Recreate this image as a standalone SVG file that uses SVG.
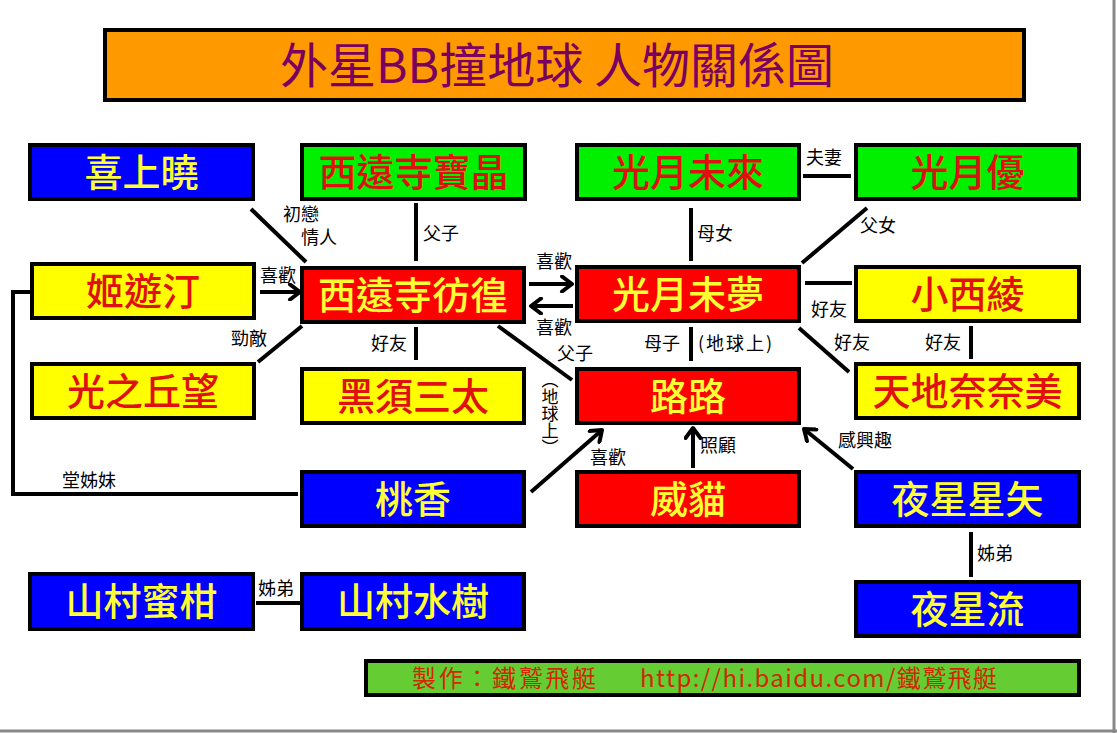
<svg xmlns="http://www.w3.org/2000/svg" width="1117" height="733" viewBox="0 0 1117 733">
<style>
  .box { stroke: #000; stroke-width: 4; }
  .blue { fill: #0000ff; }
  .green { fill: #00f000; }
  .yellow { fill: #ffff00; }
  .red { fill: #ff0000; }
  .t { font-family: "Noto Sans CJK TC", "Noto Sans CJK SC", sans-serif; font-size: 38px; text-anchor: middle; font-weight: 500; }
  .ty { fill: #ffff33; }
  .tr { fill: #e01010; }
  .lbl { font-family: "Noto Sans CJK TC", "Noto Sans CJK SC", sans-serif; font-size: 18px; fill: #000; }
  .ln { stroke: #000; stroke-width: 4; fill: none; }
  .ar { marker-end: url(#arrow); }
</style>
<defs>
  <marker id="arrow" viewBox="0 0 16 18" refX="13" refY="9" markerWidth="16" markerHeight="18" markerUnits="userSpaceOnUse" orient="auto">
    <path d="M3,1.5 L13,9 L3,16.5" fill="none" stroke="#000" stroke-width="4" stroke-linecap="round" stroke-linejoin="round"/>
  </marker>
</defs>
<rect x="0" y="0" width="1117" height="733" fill="#ffffff"/>
<line x1="1114" y1="0" x2="1114" y2="733" stroke="#888" stroke-width="3"/>
<line x1="0" y1="731" x2="1117" y2="731" stroke="#888" stroke-width="3"/>

<g id="title">
  <rect x="105" y="30" width="919" height="70" fill="#ff9900" class="box"/>
  <text x="557" y="83" font-family="Noto Sans CJK TC, Noto Sans CJK SC, sans-serif" font-size="48" fill="#7a0060" text-anchor="middle">外星BB撞地球 人物關係圖</text>
</g>

<g id="connectors">
  <line class="ln" x1="251" y1="209" x2="306" y2="262"/>
  <line class="ln" x1="416" y1="203" x2="416" y2="261"/>
  <line class="ln ar" x1="260" y1="292" x2="300" y2="292"/>
  <line class="ln" x1="258" y1="362" x2="302" y2="326"/>
  <line class="ln" x1="416" y1="327" x2="416" y2="360"/>
  <line class="ln ar" x1="529" y1="284" x2="572" y2="284"/>
  <line class="ln ar" x1="573" y1="306" x2="531" y2="306"/>
  <line class="ln" x1="498" y1="326" x2="572" y2="380"/>
  <line class="ln" x1="691" y1="208" x2="691" y2="261"/>
  <line class="ln" x1="803" y1="176" x2="851" y2="176"/>
  <line class="ln" x1="867" y1="208" x2="802" y2="263"/>
  <line class="ln" x1="805" y1="283" x2="852" y2="283"/>
  <line class="ln" x1="799" y1="328" x2="849" y2="372"/>
  <line class="ln" x1="971" y1="326" x2="971" y2="359"/>
  <line class="ln" x1="691" y1="327" x2="691" y2="361"/>
  <line class="ln ar" x1="531" y1="492" x2="602" y2="430"/>
  <line class="ln ar" x1="693" y1="468" x2="693" y2="428"/>
  <line class="ln ar" x1="853" y1="469" x2="804" y2="429"/>
  <line class="ln" x1="971" y1="532" x2="971" y2="577"/>
  <line class="ln" x1="256" y1="603" x2="300" y2="603"/>
  <polyline class="ln" points="298,494 13,494 13,292 32,292"/>

  <text class="lbl" x="283" y="221">初戀</text>
  <text class="lbl" x="301" y="244">情人</text>
  <text class="lbl" x="423" y="240">父子</text>
  <text class="lbl" x="260" y="282">喜歡</text>
  <text class="lbl" x="231" y="345">勁敵</text>
  <text class="lbl" x="371" y="350">好友</text>
  <text class="lbl" x="536" y="268">喜歡</text>
  <text class="lbl" x="536" y="334">喜歡</text>
  <text class="lbl" x="557" y="360">父子</text>
  <text class="lbl" x="550" y="371" style="writing-mode: vertical-rl; font-size: 17px;">（地球上）</text>
  <text class="lbl" x="697" y="240">母女</text>
  <text class="lbl" x="806" y="164">夫妻</text>
  <text class="lbl" x="860" y="232">父女</text>
  <text class="lbl" x="811" y="316">好友</text>
  <text class="lbl" x="834" y="349">好友</text>
  <text class="lbl" x="925" y="349">好友</text>
  <text class="lbl" x="644" y="350">母子</text>
  <text class="lbl" x="698" y="350" textLength="74">(地球上)</text>
  <text class="lbl" x="590" y="464">喜歡</text>
  <text class="lbl" x="700" y="452">照顧</text>
  <text class="lbl" x="838" y="447">感興趣</text>
  <text class="lbl" x="977" y="560">姊弟</text>
  <text class="lbl" x="258" y="595">姊弟</text>
  <text class="lbl" x="62" y="487">堂姊妹</text>
</g>

<g id="n-xishangxiao"><rect class="box blue" x="30" y="145" width="223" height="54"/><text class="t ty" x="141.5" y="186">喜上曉</text></g>
<g id="n-baojing"><rect class="box green" x="302" y="145" width="223" height="54"/><text class="t tr" x="413.5" y="186">西遠寺寶晶</text></g>
<g id="n-weilai"><rect class="box green" x="577" y="145" width="222" height="54"/><text class="t tr" x="688" y="186">光月未來</text></g>
<g id="n-you"><rect class="box green" x="856" y="145" width="223" height="54"/><text class="t tr" x="967.5" y="186">光月優</text></g>

<g id="n-jiyouting"><rect class="box yellow" x="32" y="264" width="222" height="54"/><text class="t tr" x="143" y="305">姬遊汀</text></g>
<g id="n-panghuang"><rect class="box red" x="302" y="268" width="222" height="54"/><text class="t ty" x="413" y="309">西遠寺彷徨</text></g>
<g id="n-weimeng"><rect class="box red" x="577" y="267" width="222" height="54"/><text class="t ty" x="688" y="308">光月未夢</text></g>
<g id="n-xiaoxiling"><rect class="box yellow" x="856" y="267" width="223" height="54"/><text class="t tr" x="967.5" y="308">小西綾</text></g>

<g id="n-wang"><rect class="box yellow" x="32" y="364" width="222" height="54"/><text class="t tr" x="143" y="405">光之丘望</text></g>
<g id="n-santai"><rect class="box yellow" x="302" y="369" width="222" height="54"/><text class="t tr" x="413" y="410">黑須三太</text></g>
<g id="n-lulu"><rect class="box red" x="577" y="369" width="222" height="54"/><text class="t ty" x="688" y="410">路路</text></g>
<g id="n-nanami"><rect class="box yellow" x="856" y="364" width="223" height="54"/><text class="t tr" x="967.5" y="405">天地奈奈美</text></g>

<g id="n-taoxiang"><rect class="box blue" x="302" y="472" width="222" height="54"/><text class="t ty" x="413" y="513">桃香</text></g>
<g id="n-weimao"><rect class="box red" x="577" y="472" width="222" height="54"/><text class="t ty" x="688" y="513">威貓</text></g>
<g id="n-xingshi"><rect class="box blue" x="856" y="472" width="223" height="54"/><text class="t ty" x="967.5" y="513">夜星星矢</text></g>

<g id="n-miga"><rect class="box blue" x="30" y="574" width="223" height="55"/><text class="t ty" x="141.5" y="615">山村蜜柑</text></g>
<g id="n-mizuki"><rect class="box blue" x="302" y="574" width="222" height="55"/><text class="t ty" x="413" y="615">山村水樹</text></g>
<g id="n-liu"><rect class="box blue" x="856" y="582" width="223" height="54"/><text class="t ty" x="967.5" y="623">夜星流</text></g>

<g id="footer">
  <rect x="366" y="661" width="713" height="34" fill="#66cc33" class="box"/>
  <text x="412" y="687" font-family="Noto Sans CJK TC, Noto Sans CJK SC, sans-serif" font-size="24" fill="#d02800" textLength="184">製作：鐵鷲飛艇</text>
  <text x="640" y="687" font-family="Noto Sans CJK TC, Noto Sans CJK SC, sans-serif" font-size="24" fill="#d02800" textLength="357">http://hi.baidu.com/鐵鷲飛艇</text>
</g>
</svg>
